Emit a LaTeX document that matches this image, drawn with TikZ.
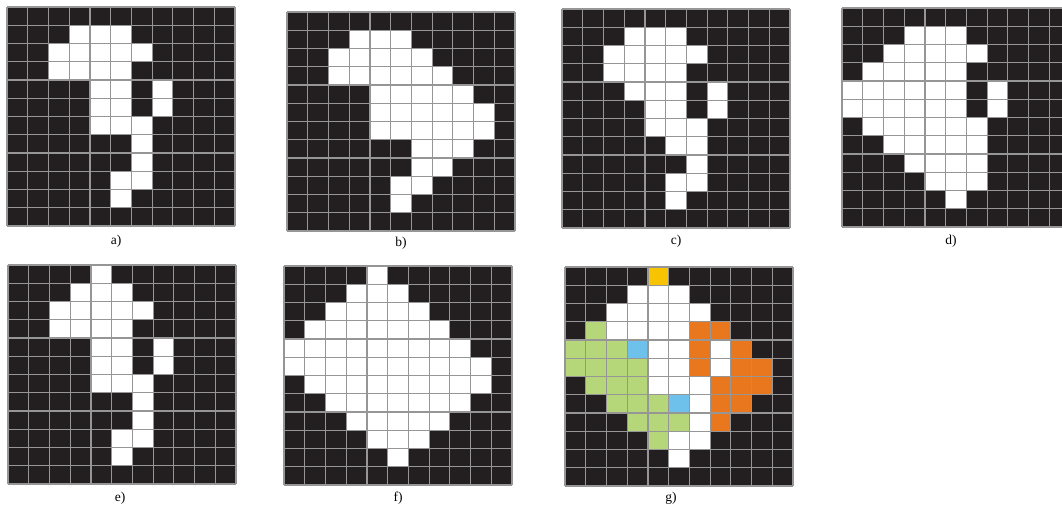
\documentclass[tikz,border=0pt]{standalone}
\usepackage{fontspec}
\setmainfont{Liberation Serif}
\definecolor{cellblack}{RGB}{35,31,32}
\definecolor{gridgray}{RGB}{150,150,150}
\definecolor{segyellow}{RGB}{248,195,0}
\definecolor{seggreen}{RGB}{181,215,121}
\definecolor{segblue}{RGB}{110,193,234}
\definecolor{segorange}{RGB}{232,119,30}

\tikzset{every picture/.style={line width=0.75pt}}
\tikzset{
  gridline/.style={draw=gridgray, line width=1.2pt},
  lbl/.style={inner sep=0.75pt, font=\fontsize{13.5}{15}\selectfont},
}

% cell size (11 columns, 12 rows)
\def\cw{20.73}
\def\ch{18.25}

% row spans: row/first column/last column
\newcommand{\spans}[2]{%
  \foreach \r/\a/\b in {#2}
    \fill[#1] ({\a*\cw},{\r*\ch}) rectangle ({(\b+1)*\cw},{(\r+1)*\ch});}

% black grid with white cells, #4 = extra cells before the lines
\newcommand{\cellgrid}[4]{%
  \begin{scope}[shift={(#1,#2)}]
    \fill[cellblack] (0,0) rectangle ({11*\cw},{12*\ch});
    \spans{white}{#3}
    #4
    \foreach \i in {0,...,11} \draw[gridline] ({\i*\cw},0) -- ({\i*\cw},{12*\ch});
    \foreach \j in {0,...,12} \draw[gridline] (0,{\j*\ch}) -- ({11*\cw},{\j*\ch});
  \end{scope}}

\begin{document}
\begin{tikzpicture}[x=1pt,y=1pt,yscale=-1]
\useasboundingbox (0,0) rectangle (1062,508);
\clip (0,0) rectangle (1062,508);

%Grid a
\cellgrid{7}{7}{1/3/5, 2/2/6, 3/2/5, 4/4/5, 4/7/7, 5/4/5, 5/7/7, 6/4/6, 7/6/6, 8/6/6, 9/5/6, 10/5/5}{}
%Grid b
\cellgrid{287}{12}{1/3/5, 2/2/6, 3/2/7, 4/4/8, 5/4/9, 6/4/9, 7/6/8, 8/6/7, 9/5/6, 10/5/5}{}
%Grid c
\cellgrid{562}{9}{1/3/5, 2/2/6, 3/2/5, 4/3/5, 4/7/7, 5/4/5, 5/7/7, 6/4/6, 7/5/6, 8/6/6, 9/5/6, 10/5/5}{}
%Grid d
\cellgrid{842}{8}{1/3/5, 2/2/6, 3/1/5, 4/0/5, 4/7/7, 5/0/5, 5/7/7, 6/1/6, 7/2/6, 8/3/6, 9/4/6, 10/5/5}{}
%Grid e
\cellgrid{8}{265}{0/4/4, 1/3/5, 2/2/6, 3/2/5, 4/4/5, 4/7/7, 5/4/5, 5/7/7, 6/4/6, 7/6/6, 8/6/6, 9/5/6, 10/5/5}{}
%Grid f
\cellgrid{284}{266}{0/4/4, 1/3/5, 2/2/6, 3/1/7, 4/0/8, 5/0/9, 6/1/9, 7/2/8, 8/3/7, 9/4/6, 10/5/5}{}
%Grid g (segmented)
\cellgrid{565}{267}{1/3/5, 2/2/6, 3/2/5, 4/4/5, 4/7/7, 5/4/5, 5/7/7, 6/4/6, 7/6/6, 8/6/6, 9/5/6, 10/5/5}{%
  \spans{segyellow}{0/4/4}
  \spans{seggreen}{3/1/1, 4/0/2, 5/0/3, 6/1/3, 7/2/4, 8/3/5, 9/4/4}
  \spans{segblue}{4/3/3, 7/5/5}
  \spans{segorange}{3/6/7, 4/6/6, 4/8/8, 5/6/6, 5/8/9, 6/7/9, 7/7/8, 8/7/7}}

% Text Node
\node[lbl] (la) at (116,241) {a)};
\node[lbl] (lb) at (401,243) {b)};
\node[lbl] (lc) at (676,241) {c)};
\node[lbl] (ld) at (951,241) {d)};
\node[lbl] (le) at (120,498) {e)};
\node[lbl] (lf) at (398,498) {f)};
\node[lbl] (lg) at (671,498) {g)};

\end{tikzpicture}
\end{document}
